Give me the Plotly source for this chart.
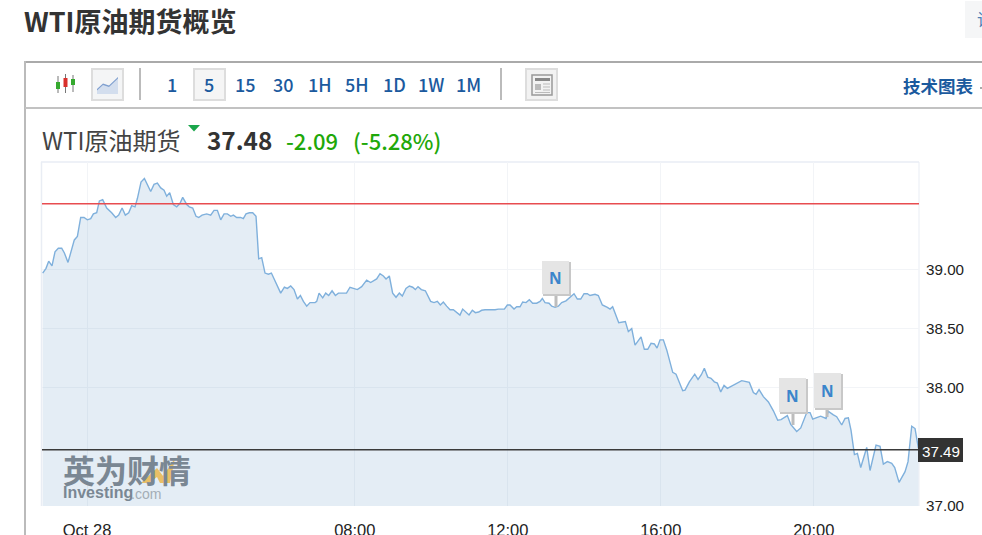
import plotly.graph_objects as go

# ---------- data ----------
minutes_of_day = [
 -9.5,-4.3,-0.1,5.1,9.8,15,20.3,24.5,30.2,36,40.1,44.9,50.1,55.3,60.5,65.8,70,75.2,79.4,84.6,90.9,98.7,105,109.7,115,
 120.1,125.4,130.1,135.3,139,144.7,150,154.7,159.9,165.1,170.4,175.6,180.8,185,189.7,195.4,200.7,205.9,210.1,216.4,
 220.5,225.8,231,235.2,240.4,247.7,254,259.2,264.5,269.7,275,280.2,285.4,289.6,294.8,301,305.2,309.4,314.7,319.9,325.1,
 329.3,334,339.2,344.5,349.2,357.6,363.8,369.6,374.3,379.5,384.7,390,394.7,399.4,404.6,409.8,417.7,420.3,424,429.7,
 434.4,439.1,444.4,449.6,454.3,459.5,467,
 472.5,477.7,484,490.8,498.6,504.9,510.1,514.3,519.6,524.8,529,534.2,539.4,544.7,549.9,554.6,560.3,565.6,570.8,575,
 579.2,584.4,590.7,594.3,599,604.3,609.5,614.2,618.9,624.1,629.4,634.6,639.8,645,649.2,654.5,659.2,664.4,669.1,674.3,
 679,684.3,687.9,694.7,700,705.2,714.6,719.3,723.5,729.8,734,739.2,743.4,748.6,753.8,759,765.3,770.6,774.2,778.4,784.7,
 788.9,794.1,799.3,804.5,811.3,817.6,823.9,829.1,834.4,839.6,844.8,849,856.8,862,868.3,876.2,880.4,884.5,889.8,894,
 904.4,909.1,914.4,919.6,929,934.2,939.5,944.7,949.9,954.1,958.8,964,969.3,974.5,
 978.7,983.9,994.4,998,1004.8,1013.2,1018.4,1023.6,1028.3,1033.6,1038.8,1044,1048.7,1054,1059.2,1064.4,1086.9,1098.9,
 1105.2,1109.4,1114.1,1120.9,1128.8,1136.6,1143.4,1148.6,1158.5,1163.8,1173.2,1179.5,1188.9,1194.1,1198.3,1205.6,
 1210.8,1219.2,1222.9,1230.7,1235.9,1243.8,1249,1254.2,1258.4,1263.7,1268.4,1273.6,1283,1288.2,1297.6,1303.9,1309.1,
 1315.4,1322.2,1326.9,1333.7,1343.1,1347.8,1353.6,1358.8,1364]
prices = [
 38.97,39.01,39.07,39.03,39.15,39.18,39.18,39.14,39.06,39.18,39.25,39.28,39.44,39.44,39.42,39.43,39.47,39.48,39.58,39.59,39.52,39.48,39.44,39.46,39.52,
 39.46,39.48,39.54,39.53,39.60,39.74,39.77,39.72,39.66,39.72,39.73,39.69,39.67,39.62,39.65,39.55,39.53,39.56,39.61,39.55,
 39.53,39.52,39.45,39.44,39.46,39.47,39.46,39.50,39.50,39.42,39.47,39.47,39.45,39.46,39.44,39.44,39.43,39.47,39.48,39.48,39.45,
 39.09,39.10,38.97,38.96,38.97,38.88,38.80,38.85,38.84,38.86,38.83,38.75,38.78,38.73,38.69,38.72,38.72,38.73,38.80,38.76,
 38.80,38.78,38.82,38.78,38.80,38.80,38.80,
 38.85,38.84,38.83,38.855,38.91,38.89,38.91,38.92,38.965,38.945,38.92,38.945,38.80,38.765,38.80,38.775,38.84,38.86,38.85,38.83,
 38.855,38.83,38.82,38.785,38.73,38.72,38.73,38.70,38.725,38.69,38.66,38.66,38.635,38.615,38.665,38.635,38.615,38.655,38.635,38.64,
 38.655,38.66,38.66,38.655,38.66,38.665,38.665,38.70,38.70,38.665,38.685,38.685,38.725,38.72,38.745,38.715,38.715,38.73,38.755,38.72,38.715,
 38.69,38.68,38.69,38.72,38.735,38.765,38.795,38.75,38.75,38.795,38.795,38.78,38.79,38.78,38.70,38.68,38.665,38.685,38.615,38.55,
 38.56,38.475,38.50,38.36,38.43,38.325,38.325,38.375,38.37,38.335,38.405,38.405,38.32,38.205,
 38.13,38.115,37.975,37.98,38.05,38.115,38.07,38.11,38.165,38.09,38.08,38.05,38.04,37.965,38.02,37.995,38.06,38.045,
 37.96,37.945,37.985,37.925,37.88,37.805,37.725,37.73,37.765,37.69,37.63,37.66,37.79,37.79,37.735,37.75,
 37.76,37.74,37.80,37.77,37.755,37.685,37.74,37.745,37.64,37.435,37.445,37.325,37.495,37.30,37.515,37.505,37.355,
 37.375,37.36,37.325,37.20,37.29,37.375,37.675,37.655,37.49]
previous_close = 39.555
last_level = 37.475
last_label = "37.49"
x_tick_values = [60, 480, 720, 960, 1200]
x_tick_labels = ["Oct 28", "08:00", "12:00", "16:00", "20:00"]
y_tick_values = [37, 38, 38.5, 39]
y_tick_labels = ["37.00", "38.00", "38.50", "39.00"]
period_buttons = ["1", "5", "15", "30", "1H", "5H", "1D", "1W", "1M"]
period_centres = [172, 209, 246, 283, 320, 357, 394, 431, 468]

W, H = 982, 535
L, R, T, B = 42, 919, 162, 506
CJK = "Noto Sans CJK SC"
ARIAL = "Liberation Sans"
BLUE = "#1b5a9e"

def fx(p): return p / W
def fy(p): return 1 - p / H

shapes, notes = [], []

def rect(x0, y0, x1, y1, fill=None, line=None, lw=1, layer="above"):
    shapes.append(dict(type="rect", xref="paper", yref="paper", x0=fx(x0), x1=fx(x1), y0=fy(y0), y1=fy(y1),
                       fillcolor=fill or "rgba(0,0,0,0)", line=dict(color=line or "rgba(0,0,0,0)", width=lw if line else 0), layer=layer))

def seg(x0, y0, x1, y1, color, lw=1, layer="above"):
    shapes.append(dict(type="line", xref="paper", yref="paper", x0=fx(x0), x1=fx(x1), y0=fy(y0), y1=fy(y1),
                       line=dict(color=color, width=lw), layer=layer))

def poly(points, fill, opacity=1.0):
    d = "M" + " L".join(f"{fx(a):.5f},{fy(b):.5f}" for a, b in points) + " Z"
    shapes.append(dict(type="path", xref="paper", yref="paper", path=d, fillcolor=fill, opacity=opacity,
                       line=dict(width=0), layer="above"))

def text(x, y, s, size, color, anchor="left", family=CJK, opacity=1.0, weight=None):
    font = dict(family=family, size=size, color=color)
    if weight:
        font["weight"] = weight
    notes.append(dict(xref="paper", yref="paper", x=fx(x), y=fy(y), text=s, showarrow=False, xanchor=anchor,
                      yanchor="middle", font=font, opacity=opacity, borderpad=0, borderwidth=0))

# page heading and cut-off button
text(24, 20, "<b>WTI原油期货概览</b>", 27, "#333333")
rect(965, 1, 983, 38, fill="#f5f6f7")
text(977, 19, "请", 17, "#4f7fb5")

# frame of the widget
seg(25, 62, 983, 62, "#aaaaaa", 2)
seg(25, 61, 25, 536, "#bbbbbb", 2)
seg(25, 108, 983, 108, "#c2c2c2", 2)

# toolbar: candlestick icon
for cx, top, bottom, boxtop, boxbot, col in [(58, 76, 93, 82, 89, "#35a92e"), (65.5, 74, 93, 78, 87, "#d9302c"), (73, 75, 92, 79, 85, "#35a92e")]:
    seg(cx, top, cx, bottom, "#777777", 1)
    rect(cx - 2, boxtop, cx + 2, boxbot, fill=col)
# toolbar: line button
rect(92, 69, 123, 100, fill="#f4f5f6", line="#dddddd", lw=2)
poly([(97, 94), (97, 89), (103, 84), (109, 86), (118, 78), (118, 94)], "#d3deee")
poly([(97, 89), (103, 83.5), (109, 85.5), (118, 77), (118, 78.5), (109, 87), (103, 85), (97, 90.5)], "#7f9fcf")
seg(140, 68, 140, 100, "#bbbbbb", 2)
# period buttons
rect(194, 69, 225, 100, fill="#f5f5f5", line="#dddddd", lw=2)
for label, cx in zip(period_buttons, period_centres):
    text(cx, 84, label, 18, BLUE, anchor="center", weight=500)
seg(501, 68, 501, 100, "#bbbbbb", 2)
# news icon button
rect(526, 69, 557, 100, fill="#f2f2f2", line="#dddddd", lw=2)
rect(532, 75, 552, 95, fill="#f2f2f2", line="#999999", lw=1.5)
rect(535, 78, 550, 81, fill="#888888")
rect(535, 84, 541, 90, fill="#bbbbbb")
for yy in (84, 87, 90, 92.5):
    seg(543, yy, 550, yy, "#bbbbbb", 1)
seg(535, 92.5, 543, 92.5, "#bbbbbb", 1)
text(903, 85.5, "<b>技术图表</b>", 17.5, BLUE)
seg(980, 88, 983, 88, "#aaaaaa", 2)

# quote header
text(42, 139, "WTI原油期货", 24, "#444444")
poly([(188, 125), (200, 125), (194, 131.5)], "#1aa64b")
text(207, 139, "<b>37.48</b>", 24.3, "#333333")
text(286, 140, "-2.09", 22, "#1fa80a", weight=500)
text(353, 140, "(-5.28%)", 22, "#1fa80a", weight=500)

# chart border
seg(41, 162, 919, 162, "#e9edf4", 1.5, layer="below")
seg(41.5, 162, 41.5, 506, "#e9edf4", 1.5, layer="below")
seg(919, 162, 919, 506, "#e9edf4", 1, layer="below")

# watermark
text(63, 469, "<b>英为财情</b>", 32, "#7a8793")
poly([(141, 483), (157, 468), (163, 476), (175, 458), (170, 483), (160, 483), (157, 477), (149, 483)], "#e9bd5e", 0.95)
text(63, 492.5, "<b>Investing</b>", 16, "#7a8793", family=ARIAL)
text(131, 493.5, ".com", 14, "#a3adb6", family=ARIAL)

# news flags
for x0, y0, x1, y1, pole_x, pole_end in [(542, 261, 570, 295, 556, 307), (779, 378, 807, 413, 793, 425), (814, 373, 842, 409, 827, 417)]:
    rect(pole_x - 1.5, y1, pole_x + 1.5, pole_end, fill="#bdbdbd")
    rect(x0 + 1, y0 + 1, x1 + 1, y1 + 1, fill="#c8c8c8")
    rect(x0, y0, x1 - 1, y1 - 1, fill="#e5e5e5")
    text((x0 + x1) / 2 - 1, (y0 + y1) / 2 + 0, "<b>N</b>", 15.5, "#3b85cb", anchor="center", family="Noto Sans")

# price tag
rect(918, 438, 963, 462, fill="#333333")
text(941, 451, last_label, 15.2, "#ffffff", anchor="center", family=ARIAL)

fig = go.Figure()
fig.add_trace(go.Scatter(x=minutes_of_day, y=prices, mode="lines", fill="tozeroy",
                         line=dict(color="#7fb0dc", width=1.4), fillcolor="rgba(120,165,205,0.2)", hoverinfo="skip"))
fig.add_trace(go.Scatter(x=[-10.6, 1365], y=[previous_close] * 2, mode="lines", line=dict(color="#e84c50", width=1.5), hoverinfo="skip"))
fig.add_trace(go.Scatter(x=[-10.6, 1365], y=[last_level] * 2, mode="lines", line=dict(color="#3a3a3a", width=1.5), hoverinfo="skip"))

fig.update_layout(
    width=W, height=H, margin=dict(l=0, r=0, t=0, b=0, autoexpand=False), paper_bgcolor="white", plot_bgcolor="white", showlegend=False,
    xaxis=dict(domain=[fx(L), fx(R)], range=[-10.6, 1365], tickmode="array", tickvals=x_tick_values, ticktext=x_tick_labels,
               showgrid=True, gridcolor="#f2f4f7", gridwidth=1, zeroline=False, showline=False, ticks="outside", ticklen=9,
               tickcolor="rgba(0,0,0,0)", tickfont=dict(family=ARIAL, size=16.5, color="#222222")),
    yaxis=dict(domain=[fy(B), fy(T)], range=[37.0, 39.909], side="right", tickmode="array", tickvals=y_tick_values, ticktext=y_tick_labels,
               showgrid=True, gridcolor="#f2f4f7", gridwidth=1, zeroline=False, showline=False, ticks="outside", ticklen=3,
               tickcolor="rgba(0,0,0,0)", tickfont=dict(family=ARIAL, size=15.2, color="#222222")),
    shapes=shapes, annotations=notes,
)
fig.write_html("out.html", config=dict(displayModeBar=False),
               post_script="document.documentElement.style.overflow='hidden';document.body.style.margin='0';document.body.style.overflow='hidden';")
